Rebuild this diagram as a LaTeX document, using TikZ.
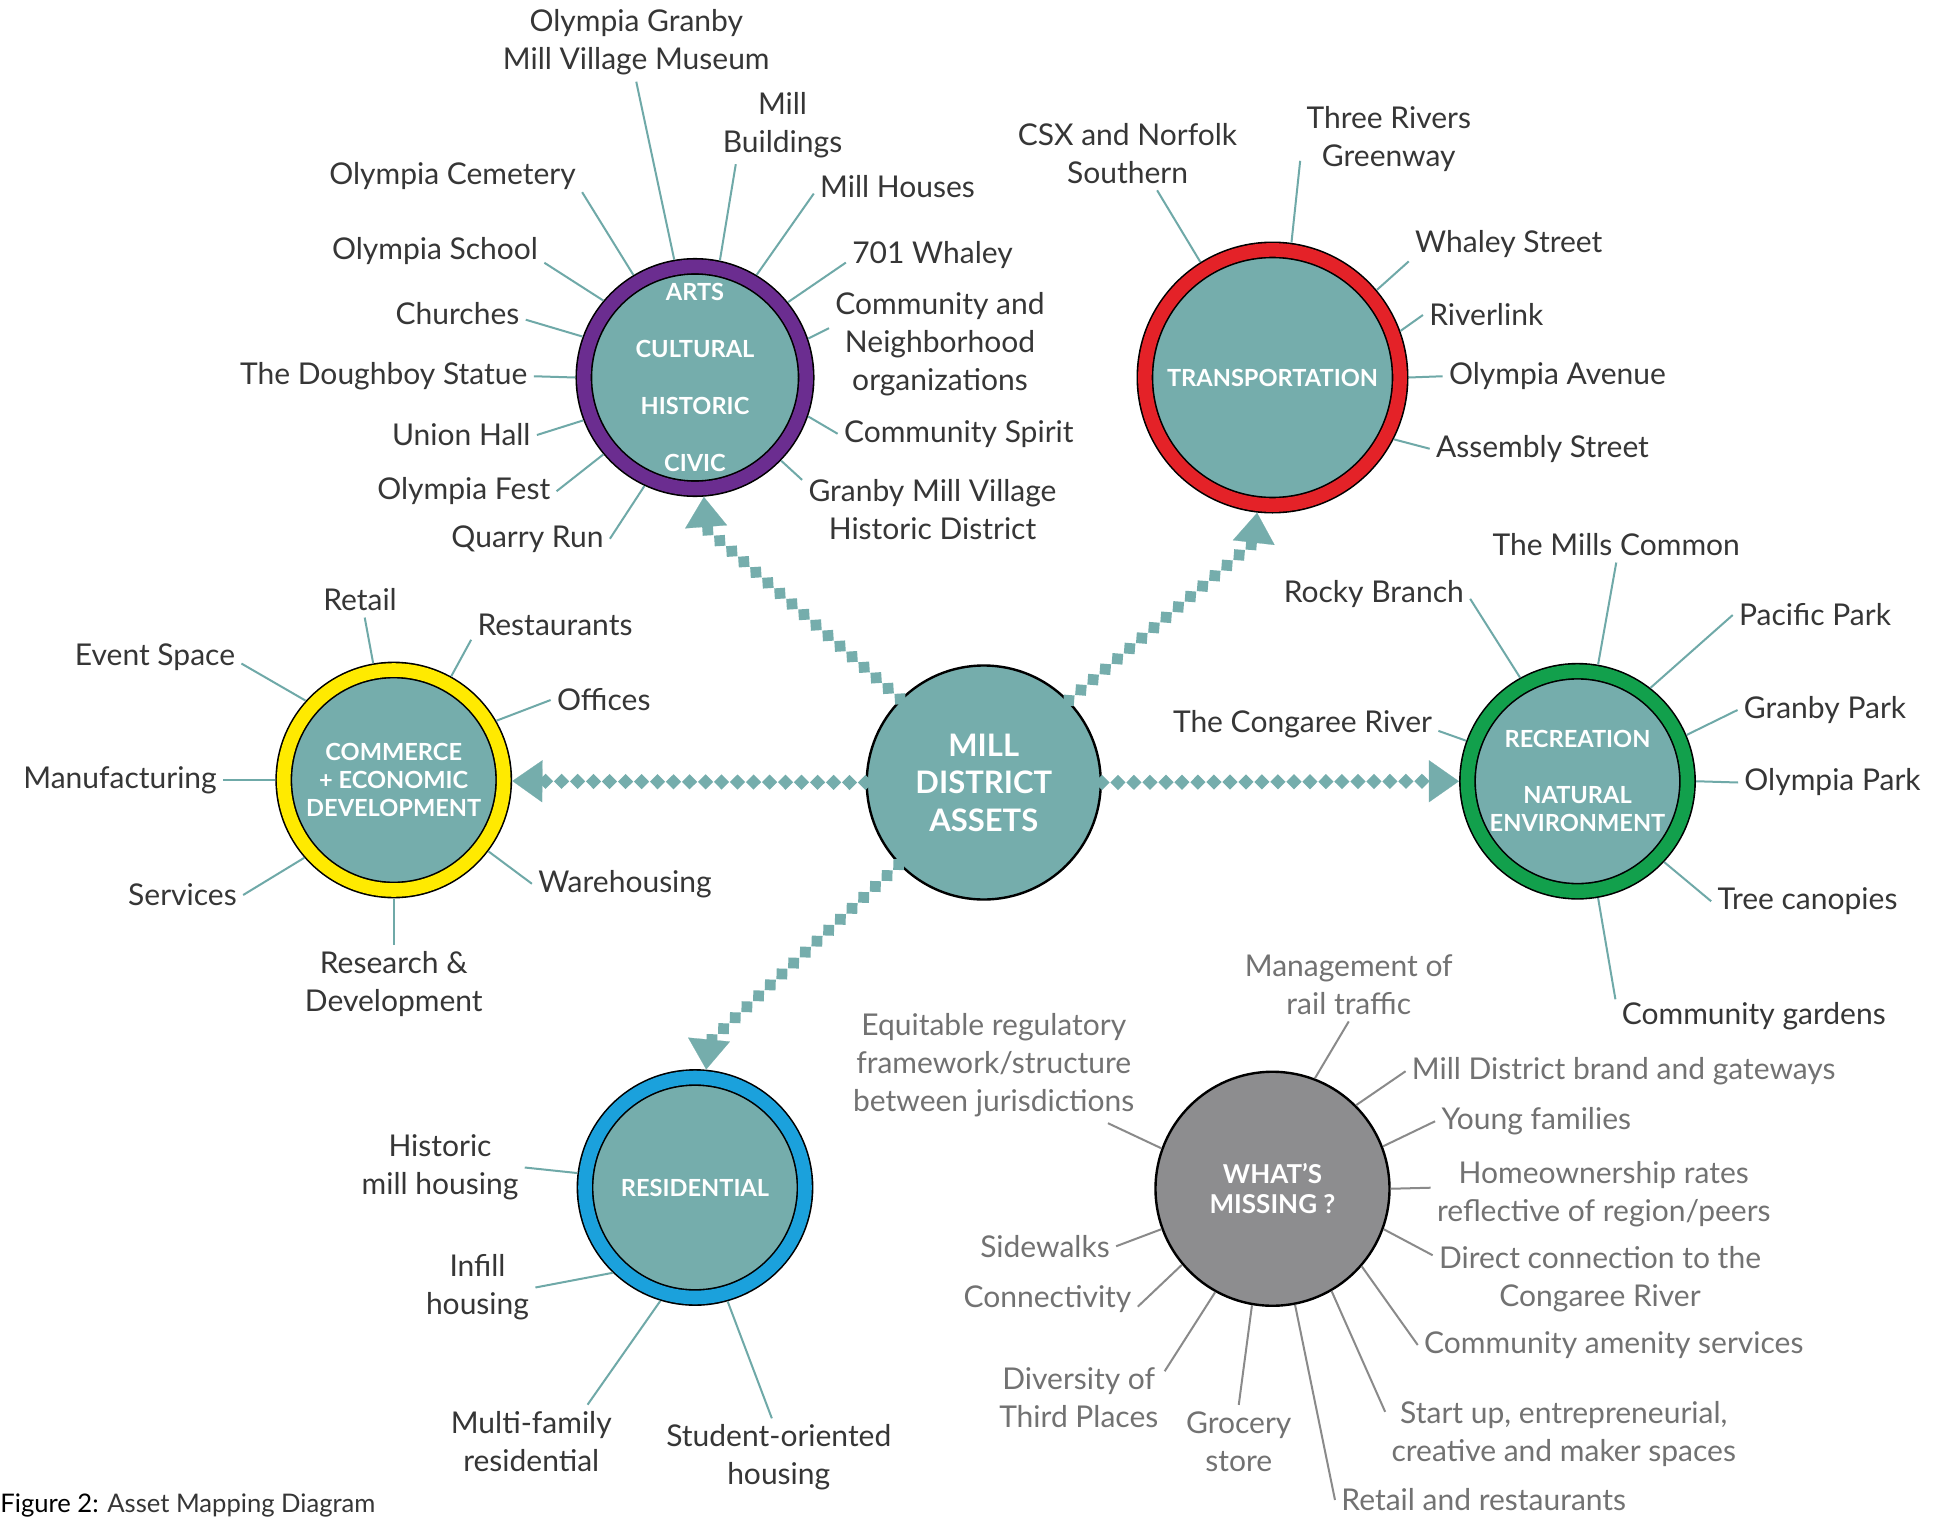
\documentclass[tikz,border=0pt]{standalone}
\usepackage{fontspec}
\setmainfont{Lato}
\usetikzlibrary{arrows.meta,decorations.markings}

\definecolor{hubteal}{HTML}{75ADAC}
\definecolor{spoketeal}{HTML}{6FA9A8}
\definecolor{artspurple}{HTML}{6B2D90}
\definecolor{transred}{HTML}{E42228}
\definecolor{comyellow}{HTML}{FFEA00}
\definecolor{recgreen}{HTML}{12A04C}
\definecolor{resblue}{HTML}{1BA1DC}
\definecolor{missgray}{HTML}{8D8D8F}
\definecolor{txtdark}{HTML}{363636}
\definecolor{txtgray}{HTML}{727272}
\definecolor{spokegray}{HTML}{8A8A8A}

\newcommand\lblfont{\fontsize{15}{19}\selectfont}
\newcommand\circfont{\fontsize{11.8}{14}\selectfont\bfseries}
\newcommand\hubfont{\fontsize{15.5}{18.75}\selectfont\bfseries}
\newcommand\misfont{\fontsize{13}{15}\selectfont\bfseries}
\newcommand\capfont{\fontsize{12.8}{14}\selectfont}

\begin{document}
\begin{tikzpicture}[x=0.625pt, y=-0.625pt,
    ring/.style={circle, fill=hubteal, draw=black, line width=0.8pt, double=#1, double distance=6.8pt,
      minimum size=110pt, outer sep=4.3pt, inner sep=0pt, text=white, font=\circfont, align=center},
    plain/.style={circle, draw=black, line width=1.2pt, minimum size=117pt, inner sep=0pt, text=white, align=center},
    lbl/.style={font=\lblfont, text=txtdark, align=center, inner sep=3pt},
    mlbl/.style={lbl, text=txtgray},
    spoke/.style={spoketeal, line width=1pt},
    mspoke/.style={spokegray, line width=1pt},
    chain/.style={decoration={markings, mark=between positions 0 and 1 step 8pt with
      {\fill[hubteal] (-3.8pt,0pt) -- (0pt,3.8pt) -- (3.8pt,0pt) -- (0pt,-3.8pt) -- cycle;}}, decorate},
    head/.style={-{Triangle[length=15pt,width=21pt]}, hubteal, line width=0.1pt}]
  \useasboundingbox (0,0) rectangle (1568,1216);
  \fill[white] (0,0) rectangle (1568,1216);

  \node[plain, fill=hubteal, font=\hubfont] (hub) at (787,626) {MILL\\DISTRICT\\ASSETS};
  \node[ring=artspurple] (arts) at (556,302) {ARTS\\[14.5pt]CULTURAL\\[14.5pt]HISTORIC\\[14.5pt]CIVIC};
  \node[ring=transred, minimum size=127.6pt] (trans) at (1018,302) {TRANSPORTATION};
  \node[ring=comyellow] (com) at (315,624) {COMMERCE\\+ ECONOMIC\\DEVELOPMENT};
  \node[ring=recgreen] (rec) at (1262,625) {RECREATION\\[14pt]NATURAL\\ENVIRONMENT};
  \node[ring=resblue] (res) at (556,950) {RESIDENTIAL};
  \node[plain, fill=missgray, font=\misfont] (mis) at (1018,951) {WHAT'S\\MISSING ?};

  \coordinate (b1) at (565,423);
  \coordinate (b2) at (1003,434);
  \coordinate (b3) at (567,834);
  \coordinate (b4) at (433,625);
  \coordinate (b5) at (1143,625);
  \path[chain] (hub.135) -- (b1);
  \path[chain] (hub.44) -- (b2);
  \path[chain] (hub.224) -- (b3);
  \path[chain] (hub.180) -- (b4);
  \path[chain] (hub.0) -- (b5);
  \draw[head] (b1) -- (arts);
  \draw[head] (b2) -- (trans);
  \draw[head] (b3) -- (res);
  \draw[head] (b4) -- (com);
  \draw[head] (b5) -- (rec);

  \node[lbl] (mus) at (509,34) {Olympia Granby\\Mill Village Museum};
  \node[lbl] (mb) at (626,100) {Mill\\Buildings};
  \node[lbl] (mh) at (718,149) {Mill Houses};
  \node[lbl] (wha) at (746,204) {701 Whaley};
  \node[lbl] (cn) at (752,275) {Community and\\Neighborhood\\organizations};
  \node[lbl] (cs) at (767,347) {Community Spirit};
  \node[lbl] (gmv) at (746,408) {Granby Mill Village\\Historic District};
  \node[lbl] (qr) at (422,431) {Quarry Run};
  \node[lbl] (of) at (371,393) {Olympia Fest};
  \node[lbl] (uh) at (369,348) {Union Hall};
  \node[lbl] (ds) at (307,301) {The Doughboy Statue};
  \node[lbl] (ch) at (366,251) {Churches};
  \node[lbl] (os) at (348,201) {Olympia School};
  \node[lbl] (oc) at (362,141) {Olympia Cemetery};
  \draw[spoke] (arts.100) -- (mus.south);
  \draw[spoke] (arts.78) -- (mb.220);
  \draw[spoke] (arts.59) -- (mh.185);
  \draw[spoke] (arts.39) -- (wha.185);
  \draw[spoke] (arts.19) -- (cn.172);
  \draw[spoke] (arts.-19) -- (cs.west);
  \draw[spoke] (arts.-44) -- (gmv.167);
  \draw[spoke] (arts.245) -- (qr.east);
  \draw[spoke] (arts.220) -- (of.east);
  \draw[spoke] (arts.201) -- (uh.east);
  \draw[spoke] (arts.180) -- (ds.east);
  \draw[spoke] (arts.160) -- (ch.-5);
  \draw[spoke] (arts.140) -- (os.-6);
  \draw[spoke] (arts.121) -- (oc.-7);

  \node[lbl] (csx) at (902,123) {CSX and Norfolk\\Southern};
  \node[lbl] (trg) at (1111,111) {Three Rivers\\Greenway};
  \node[lbl] (ws) at (1207,195) {Whaley Street};
  \node[lbl] (rl) at (1189,252) {Riverlink};
  \node[lbl] (oa) at (1246,301) {Olympia Avenue};
  \node[lbl] (asb) at (1234,359) {Assembly Street};
  \draw[spoke] (trans.122) -- (csx.-51);
  \draw[spoke] (trans.82) -- (trg.194);
  \draw[spoke] (trans.40) -- (ws.190);
  \draw[spoke] (trans.20) -- (rl.west);
  \draw[spoke] (trans.0) -- (oa.west);
  \draw[spoke] (trans.-27) -- (asb.west);

  \node[lbl] (ret) at (288,480) {Retail};
  \node[lbl] (rest) at (444,500) {Restaurants};
  \node[lbl] (evs) at (124,526) {Event Space};
  \node[lbl] (off) at (483,560) {Offices};
  \node[lbl] (man) at (96,624) {Manufacturing};
  \node[lbl] (ser) at (146,716) {Services};
  \node[lbl] (wh) at (500,707) {Warehousing};
  \node[lbl] (rd) at (315,787) {Research \&\\Development};
  \draw[spoke] (com.100) -- (ret.-75);
  \draw[spoke] (com.61) -- (rest.190);
  \draw[spoke] (com.138) -- (evs.-4);
  \draw[spoke] (com.30) -- (off.west);
  \draw[spoke] (com.180) -- (man.east);
  \draw[spoke] (com.221) -- (ser.east);
  \draw[spoke] (com.-37) -- (wh.west);
  \draw[spoke] (com.270) -- (rd.north);

  \node[lbl] (mc) at (1293,436) {The Mills Common};
  \node[lbl] (rb) at (1099,475) {Rocky Branch};
  \node[lbl] (pp) at (1452,492) {Pacific Park};
  \node[lbl] (gp) at (1460,568) {Granby Park};
  \node[lbl] (op) at (1466,626) {Olympia Park};
  \node[lbl] (cgr) at (1042,579) {The Congaree River};
  \node[lbl] (tc) at (1446,721) {Tree canopies};
  \node[lbl] (cg) at (1403,813) {Community gardens};
  \draw[spoke] (rec.80) -- (mc.south);
  \draw[spoke] (rec.119) -- (rb.-3);
  \draw[spoke] (rec.52) -- (pp.west);
  \draw[spoke] (rec.23) -- (gp.west);
  \draw[spoke] (rec.0) -- (op.west);
  \draw[spoke] (rec.160) -- (cgr.-3);
  \draw[spoke] (rec.-43) -- (tc.west);
  \draw[spoke] (rec.-80) -- (cg.173);

  \node[lbl] (hmh) at (352,934) {Historic\\mill housing};
  \node[lbl] (inf) at (382,1030) {Infill\\housing};
  \node[lbl] (mfr) at (425,1153) {Multi-family\\residential};
  \node[lbl] (soh) at (623,1166) {Student-oriented\\housing};
  \draw[spoke] (res.173) -- (hmh.east);
  \draw[spoke] (res.226) -- (inf.east);
  \draw[spoke] (res.253) -- (mfr.33);
  \draw[spoke] (res.-74) -- (soh.100);

  \node[mlbl] (mrt) at (1079,788) {Management of\\rail traffic};
  \node[mlbl] (erf) at (795,852) {Equitable regulatory\\framework/structure\\between jurisdictions};
  \node[mlbl] (mdb) at (1299,857) {Mill District brand and gateways};
  \node[mlbl] (yf) at (1229,897) {Young families};
  \node[mlbl] (hor) at (1283,955) {Homeownership rates\\reflective of region/peers};
  \node[mlbl] (dcr) at (1280,1023) {Direct connection to the\\Congaree River};
  \node[mlbl] (cas) at (1291,1076) {Community amenity services};
  \node[mlbl] (sue) at (1251,1147) {Start up, entrepreneurial,\\creative and maker spaces};
  \node[mlbl] (rr) at (1187,1200) {Retail and restaurants};
  \node[mlbl] (gs) at (991,1153) {Grocery\\store};
  \node[mlbl] (dtp) at (863,1118) {Diversity of\\Third Places};
  \node[mlbl] (con) at (838,1039) {Connectivity};
  \node[mlbl] (sw) at (836,997) {Sidewalks};
  \draw[mspoke] (mis.69) -- (mrt.south);
  \draw[mspoke] (mis.160) -- (erf.-27);
  \draw[mspoke] (mis.45) -- (mdb.west);
  \draw[mspoke] (mis.21) -- (yf.west);
  \draw[mspoke] (mis.0) -- (hor.178);
  \draw[mspoke] (mis.-20) -- (dcr.172);
  \draw[mspoke] (mis.-41) -- (cas.west);
  \draw[mspoke] (mis.-60) -- (sue.173);
  \draw[mspoke] (mis.-79) -- (rr.west);
  \draw[mspoke] (mis.260) -- (gs.north);
  \draw[mspoke] (mis.241) -- (dtp.17);
  \draw[mspoke] (mis.220) -- (con.-5);
  \draw[mspoke] (mis.200) -- (sw.east);

  \node[anchor=base west, inner sep=0pt, font=\capfont, text=black] (cap) at (0,1210) {Figure 2: {\color{txtdark}Asset Mapping Diagram}};
\end{tikzpicture}
\end{document}
